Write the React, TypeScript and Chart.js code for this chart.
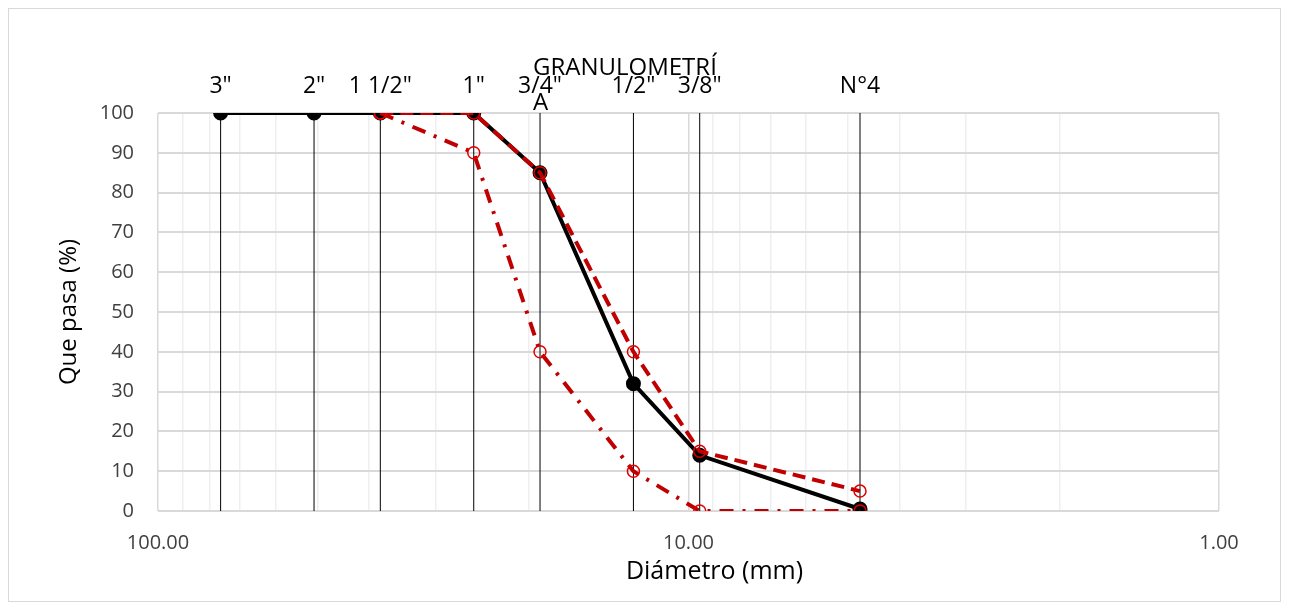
import React, { useEffect, useRef } from "react";
import { Chart, registerables } from "chart.js";

Chart.register(...registerables);

// ---- data ----
const sieveNames = ['3"', '2"', '1 1/2"', '1"', '3/4"', '1/2"', '3/8"', "N°4"];
const sieveSizes = [76.2, 50.8, 38.1, 25.4, 19.05, 12.7, 9.525, 4.75];
const passSample = [100, 100, 100, 100, 85, 32, 14, 0.5];
const limitSizes = [38.1, 25.4, 19.05, 12.7, 9.525, 4.75];
const upperLimit = [100, 100, 85, 40, 15, 5];
const lowerLimit = [100, 90, 40, 10, 0, 0];
const xTickValues = [1, 2, 3, 4, 5, 6, 7, 8, 9, 10, 20, 30, 40, 50, 60, 70, 80, 90, 100];
const xMajorTicks = [1, 10, 100];
const titleLines = ["GRANULOMETRÍ", "A"];
const xTitle = "Diámetro (mm)";
const yTitle = "Que pasa (%)";

const FONT = "'Open Sans', sans-serif";

const toPoints = (xs: number[], ys: number[]) => xs.map((x, i) => ({ x, y: ys[i] }));

const sieveLineData: { x: number; y: number | null }[] = [];
sieveSizes.forEach((s) => {
  sieveLineData.push({ x: s, y: 0 }, { x: s, y: 100 }, { x: s, y: null });
});

const overlayPlugin = {
  id: "overlay",
  beforeDraw(chart: any) {
    const { ctx, width, height } = chart;
    ctx.save();
    ctx.fillStyle = "#ffffff";
    ctx.fillRect(0, 0, width, height);
    ctx.strokeStyle = "#d9d9d9";
    ctx.lineWidth = 1;
    ctx.strokeRect(0.5, 0.5, width - 1, height - 1);
    ctx.restore();
  },
  afterDraw(chart: any) {
    const { ctx, chartArea } = chart;
    const xs = chart.scales.x;
    ctx.save();
    ctx.fillStyle = "#000000";
    ctx.textBaseline = "alphabetic";
    ctx.font = `23px ${FONT}`;
    ctx.textAlign = "center";
    sieveNames.forEach((name, i) => {
      ctx.fillText(name, xs.getPixelForValue(sieveSizes[i]), chartArea.top - 20);
    });
    ctx.font = `24px ${FONT}`;
    ctx.textAlign = "left";
    ctx.fillText(titleLines[0], chartArea.left + 375, chartArea.top - 38);
    ctx.fillText(titleLines[1], chartArea.left + 375, chartArea.top - 3);
    // x-axis title
    ctx.font = `25px ${FONT}`;
    ctx.textAlign = "center";
    ctx.textBaseline = "middle";
    ctx.fillText(xTitle, (chartArea.left + chartArea.right) / 2 + 26, chartArea.bottom + 61);
    ctx.restore();
  },
};

export default function App() {
  const ref = useRef<HTMLCanvasElement | null>(null);
  useEffect(() => {
    if (!ref.current) return;
    const chart = new Chart(ref.current, {
      type: "line",
      data: {
        datasets: [
          {
            label: "Muestra",
            data: toPoints(sieveSizes, passSample),
            borderColor: "#000000",
            backgroundColor: "#000000",
            borderWidth: 4,
            pointRadius: 5.5,
            pointBackgroundColor: "#000000",
            pointBorderColor: "#000000",
            order: 2,
          },
          {
            label: "Límite superior",
            data: toPoints(limitSizes, upperLimit),
            borderColor: "#c00000",
            borderWidth: 4,
            borderDash: [13, 7],
            pointRadius: 6,
            pointBorderWidth: 1.5,
            pointBackgroundColor: "rgba(0,0,0,0)",
            pointBorderColor: "#e00000",
            order: 1,
          },
          {
            label: "Límite inferior",
            data: toPoints(limitSizes, lowerLimit),
            borderColor: "#c00000",
            borderWidth: 4,
            borderDash: [14, 9, 3, 9],
            pointRadius: 6,
            pointBorderWidth: 1.5,
            pointBackgroundColor: "rgba(0,0,0,0)",
            pointBorderColor: "#e00000",
            order: 1,
          },
          {
            label: "Tamices",
            data: sieveLineData as any,
            borderColor: "#000000",
            borderWidth: 1,
            pointRadius: 0,
            spanGaps: false,
            order: 10,
          },
        ],
      },
      options: {
        animation: false,
        responsive: false,
        layout: { padding: { left: 0, top: 105, right: 62, bottom: 0 } },
        plugins: {
          legend: { display: false },
          tooltip: { enabled: false },
        },
        scales: {
          x: {
            type: "logarithmic",
            reverse: true,
            min: 1,
            max: 100,
            afterBuildTicks(scale: any) {
              scale.ticks = xTickValues.map((v) => ({ value: v }));
            },
            afterFit(scale: any) {
              scale.height = 91;
            },
            ticks: {
              autoSkip: false,
              maxRotation: 0,
              padding: 20,
              color: "#404040",
              font: { family: FONT, size: 20 },
              callback: (v: any) => (xMajorTicks.includes(Number(v)) ? Number(v).toFixed(2) : ""),
            },
            grid: {
              drawTicks: false,
              color: (c: any) => (c.tick && xMajorTicks.includes(c.tick.value) ? "#d9d9d9" : "#efefef"),
              lineWidth: 1.5,
            },
            border: { display: false },
            title: { display: false },
          },
          y: {
            type: "linear",
            min: 0,
            max: 100,
            afterFit(scale: any) {
              scale.width = 150;
            },
            ticks: {
              stepSize: 10,
              padding: 24,
              color: "#404040",
              font: { family: FONT, size: 20 },
            },
            grid: { drawTicks: false, color: "#d9d9d9", lineWidth: 2 },
            border: { display: false },
            title: {
              display: true,
              text: yTitle,
              color: "#000000",
              font: { family: FONT, size: 24 },
              padding: { top: 47, bottom: 0 },
            },
          },
        },
      },
      plugins: [overlayPlugin],
    });
    return () => chart.destroy();
  }, []);
  return <canvas ref={ref} width={1273} height={594} style={{ display: "block" }} />;
}
